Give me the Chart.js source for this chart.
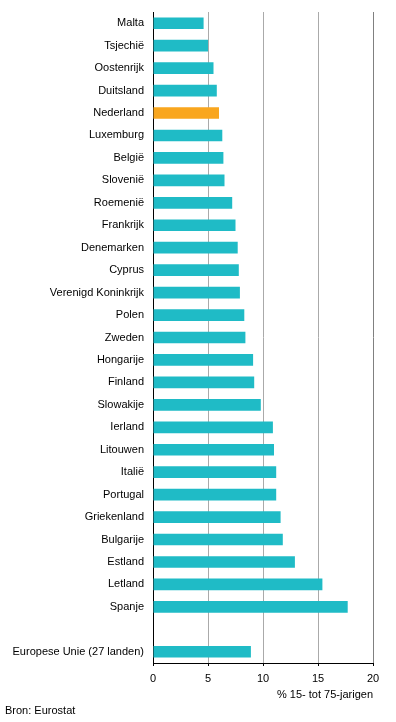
<!DOCTYPE html>
<html>
<head>
<meta charset="utf-8">
<script src="https://cdn.jsdelivr.net/npm/chart.js@4/dist/chart.umd.min.js"></script>
<style>
  body { margin: 0; background: #fff; }
  #wrap { position: relative; width: 396px; height: 722px; }
  #bron { position: absolute; left: 5px; top: 704px; font: 11px "Liberation Sans", Arial, sans-serif; color: #000; }
</style>
</head>
<body>
<div id="wrap">
  <canvas id="chartCanvas" width="396" height="722"></canvas>
  <div id="bron">Bron: Eurostat</div>
</div>
<script>
// landen, van laag naar hoog, met een lege regel voor het EU-gemiddelde
const landen = ['Malta', 'Tsjechië', 'Oostenrijk', 'Duitsland', 'Nederland', 'Luxemburg', 'België',
    'Slovenië', 'Roemenië', 'Frankrijk', 'Denemarken', 'Cyprus', 'Verenigd Koninkrijk', 'Polen',
    'Zweden', 'Hongarije', 'Finland', 'Slowakije', 'Ierland', 'Litouwen', 'Italië', 'Portugal',
    'Griekenland', 'Bulgarije', 'Estland', 'Letland', 'Spanje', '', 'Europese Unie (27 landen)'];
const werkloosheid = [4.6, 5.0, 5.5, 5.8, 6.0, 6.3, 6.4, 6.5, 7.2, 7.5, 7.7, 7.8, 7.9, 8.3,
    8.4, 9.1, 9.2, 9.8, 10.9, 11.0, 11.2, 11.2, 11.6, 11.8, 12.9, 15.4, 17.7, null, 8.9];
const xTicks = [0, 5, 10, 15, 20];

const kleuren = landen.map(l => l === 'Nederland' ? '#f9a61e' : '#1fbbc6');

Chart.defaults.font.family = '"Liberation Sans", Arial, sans-serif';
Chart.defaults.font.size = 11;
Chart.defaults.color = '#000';

const ctx = document.getElementById('chartCanvas').getContext('2d');
new Chart(ctx, {
    type: 'bar',
    data: {
        labels: landen,
        datasets: [{
            data: werkloosheid,
            backgroundColor: kleuren,
            borderWidth: 0,
            barPercentage: 0.52,
            categoryPercentage: 1
        }]
    },
    options: {
        indexAxis: 'y',
        responsive: false,
        animation: false,
        layout: { padding: { left: 0, right: 23, top: 12, bottom: 20 } },
        plugins: { legend: { display: false }, tooltip: { enabled: false } },
        scales: {
            x: {
                min: 0,
                max: 20,
                afterBuildTicks: s => { s.ticks = xTicks.map(v => ({ value: v })); },
                afterFit: s => { s.height = 39; s.paddingLeft = 0; s.paddingRight = 0; },
                ticks: { padding: 6, maxRotation: 0 },
                grid: {
                    color: c => c.tick && c.tick.value === 20 ? '#808080' : (c.tick && c.tick.value === 0 ? '#000' : '#aaaaaa'),
                    tickColor: '#000',
                    tickLength: 3,
                    lineWidth: 1
                },
                border: { color: '#000', width: 1 },
                title: {
                    display: true,
                    text: '% 15- tot 75-jarigen',
                    align: 'end',
                    padding: { top: 0, bottom: 0 }
                }
            },
            y: {
                afterFit: s => { s.width = 153; s.paddingTop = 0; s.paddingBottom = 0; },
                ticks: { padding: 9, autoSkip: false },
                grid: { display: false, drawTicks: false },
                border: { color: '#000', width: 1 }
            }
        }
    }
});
</script>
</body>
</html>
